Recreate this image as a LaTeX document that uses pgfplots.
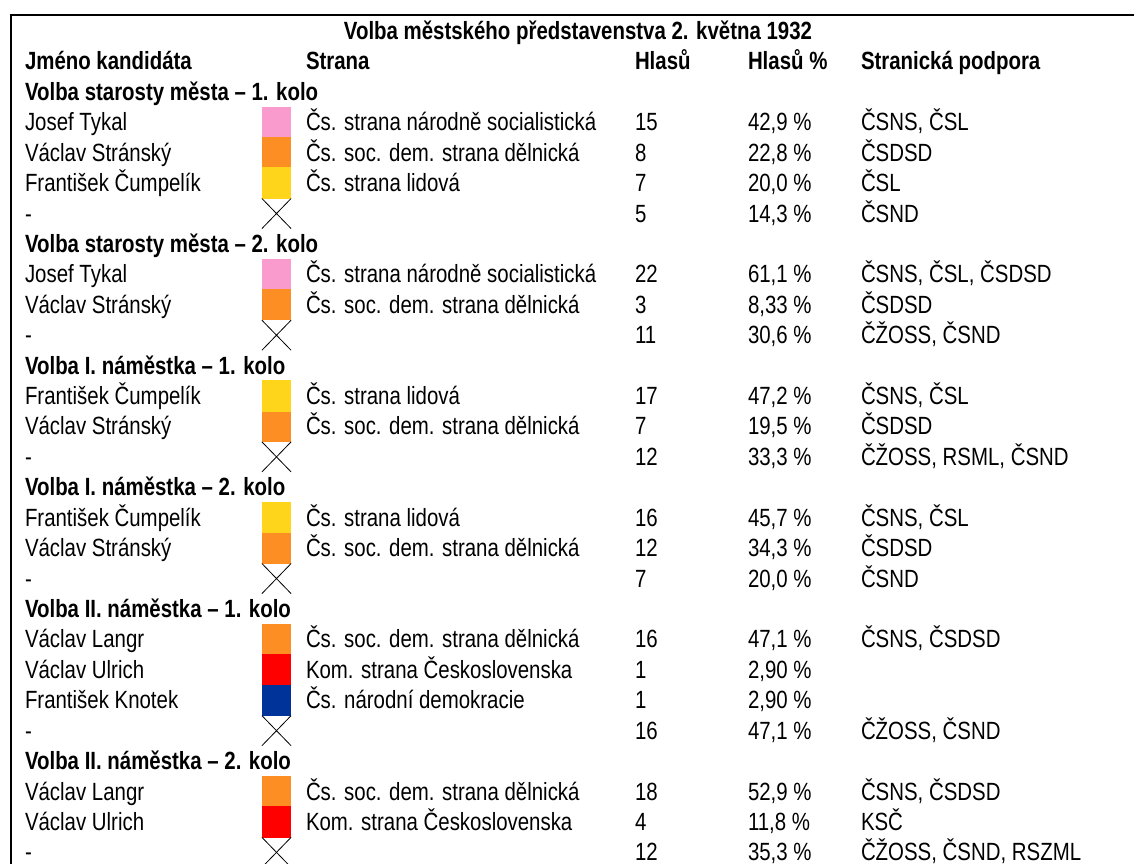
\documentclass[border=0pt]{standalone}
\usepackage{pgfplots}
\pgfplotsset{compat=1.18}
\usepackage{pgfplotstable}
\usepackage{fontspec}
\setmainfont{Liberation Sans}[FakeStretch=0.82]
\definecolor{cPink}{HTML}{F99BCD}
\definecolor{cOrange}{HTML}{FD8E24}
\definecolor{cYellow}{HTML}{FED51A}
\definecolor{cRed}{HTML}{FF0000}
\definecolor{cBlue}{HTML}{003399}
\newcommand\tabfont{\fontsize{25}{30}\selectfont}

\pgfplotstableread[col sep=semicolon]{
x;row;text
25;1;Jméno kandidáta
306;1;Strana
635;1;Hlasů
748;1;Hlasů \%
861;1;Stranická podpora
25;2;Volba starosty města – 1. kolo
25;7;Volba starosty města – 2. kolo
25;11;Volba I. náměstka – 1. kolo
25;15;Volba I. náměstka – 2. kolo
25;19;Volba II. náměstka – 1. kolo
25;24;Volba II. náměstka – 2. kolo
}\boldcells

\pgfplotstableread[col sep=semicolon]{
x;row;text
25;3;Josef Tykal
306;3;Čs. strana národně socialistická
635;3;15
748;3;42,9 \%
861;3;ČSNS, ČSL
25;4;Václav Stránský
306;4;Čs. soc. dem. strana dělnická
635;4;8
748;4;22,8 \%
861;4;ČSDSD
25;5;František Čumpelík
306;5;Čs. strana lidová
635;5;7
748;5;20,0 \%
861;5;ČSL
25;6;-
635;6;5
748;6;14,3 \%
861;6;ČSND
25;8;Josef Tykal
306;8;Čs. strana národně socialistická
635;8;22
748;8;61,1 \%
861;8;ČSNS, ČSL, ČSDSD
25;9;Václav Stránský
306;9;Čs. soc. dem. strana dělnická
635;9;3
748;9;8,33 \%
861;9;ČSDSD
25;10;-
635;10;11
748;10;30,6 \%
861;10;ČŽOSS, ČSND
25;12;František Čumpelík
306;12;Čs. strana lidová
635;12;17
748;12;47,2 \%
861;12;ČSNS, ČSL
25;13;Václav Stránský
306;13;Čs. soc. dem. strana dělnická
635;13;7
748;13;19,5 \%
861;13;ČSDSD
25;14;-
635;14;12
748;14;33,3 \%
861;14;ČŽOSS, RSML, ČSND
25;16;František Čumpelík
306;16;Čs. strana lidová
635;16;16
748;16;45,7 \%
861;16;ČSNS, ČSL
25;17;Václav Stránský
306;17;Čs. soc. dem. strana dělnická
635;17;12
748;17;34,3 \%
861;17;ČSDSD
25;18;-
635;18;7
748;18;20,0 \%
861;18;ČSND
25;20;Václav Langr
306;20;Čs. soc. dem. strana dělnická
635;20;16
748;20;47,1 \%
861;20;ČSNS, ČSDSD
25;21;Václav Ulrich
306;21;Kom. strana Československa
635;21;1
748;21;2,90 \%
25;22;František Knotek
306;22;Čs. národní demokracie
635;22;1
748;22;2,90 \%
25;23;-
635;23;16
748;23;47,1 \%
861;23;ČŽOSS, ČSND
25;25;Václav Langr
306;25;Čs. soc. dem. strana dělnická
635;25;18
748;25;52,9 \%
861;25;ČSNS, ČSDSD
25;26;Václav Ulrich
306;26;Kom. strana Československa
635;26;4
748;26;11,8 \%
861;26;KSČ
25;27;-
635;27;12
748;27;35,3 \%
861;27;ČŽOSS, ČSND, RSZML
}\normalcells

\begin{document}
\begin{tikzpicture}
\useasboundingbox (0,0) rectangle (1134bp,864bp);
\begin{axis}[at={(0,0)}, anchor=south west, scale only axis,
  x=1bp, y=30.42bp, xmin=0, xmax=1134, ymin=-1.02, ymax=27.383,
  y dir=reverse, hide axis, clip=false,
  textcells/.style={only marks, mark=*, mark size=0pt,
    point meta=explicit symbolic, nodes near coords,
    every node near coord/.append style={anchor=base west, inner sep=0pt,
      outer sep=0pt, yshift=-8.5bp, text=black, font=\tabfont#1}},
  swatch/.style={only marks, mark=square*, mark size=15.2bp, color=#1,
    mark options={draw=#1, fill=#1, line width=0pt, xscale=0.95}}]
% frame
\draw[line width=1.6bp, black] (axis cs:1134,-0.525) -- (axis cs:11,-0.525) -- (axis cs:11,27.383);
% title
\addplot[textcells={\bfseries}, every node near coord/.append style={anchor=base}]
  coordinates {(578,0) [Volba městského představenstva 2. května 1932]};
\addplot[textcells={\bfseries}] table[x=x, y=row, meta=text] {\boldcells};
\addplot[textcells={}] table[x=x, y=row, meta=text] {\normalcells};
% colour swatches
\addplot[swatch=cPink] coordinates {(276.5,3) (276.5,8)};
\addplot[swatch=cOrange] coordinates {(276.5,4) (276.5,9) (276.5,13) (276.5,17) (276.5,20) (276.5,25)};
\addplot[swatch=cYellow] coordinates {(276.5,5) (276.5,12) (276.5,16)};
\addplot[swatch=cRed] coordinates {(276.5,21) (276.5,26)};
\addplot[swatch=cBlue] coordinates {(276.5,22)};
% crosses for "-"
\addplot[only marks, color=black, mark=x, mark size=21.3bp, mark options={draw=black, line width=0.8bp, xscale=0.97}]
  coordinates {(276.5,6) (276.5,10) (276.5,14) (276.5,18) (276.5,23) (276.5,27)};
\end{axis}
\end{tikzpicture}
\end{document}
